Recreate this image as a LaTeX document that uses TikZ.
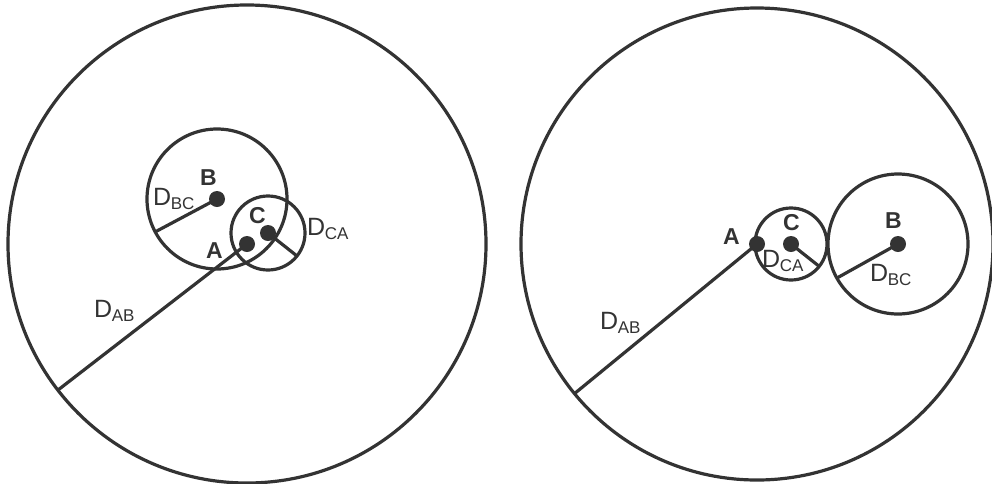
\documentclass[tikz,border=0pt]{standalone}
\usepackage{fontspec}
\setmainfont{Liberation Sans}
\definecolor{ink}{HTML}{333333}
\newcommand{\Dlab}[1]{{\fontsize{25}{25}\selectfont D}\kern-0.5pt\raisebox{-4pt}{\fontsize{17}{17}\selectfont #1}}
\tikzset{
  ring/.style={draw=ink, line width=3.2pt},
  radius line/.style={draw=ink, line width=3.2pt},
  dot/.style={circle, fill=ink, inner sep=0pt, minimum size=16pt},
  ptlab/.style={anchor=base west, inner sep=0pt, text=ink, font=\bfseries\fontsize{23}{23}\selectfont},
  dlab/.style={anchor=base west, inner sep=0pt, text=ink},
}
\begin{document}
\begin{tikzpicture}[x=1pt,y=-1pt]
\useasboundingbox (0,0) rectangle (992,483);
% ---------- left ----------
\coordinate (LA) at (247,244);
\coordinate (LB) at (217,199);
\coordinate (LC) at (268,233);
\coordinate (LABend) at (58,390);
\coordinate (LBCend) at (155,232);
\coordinate (LCAend) at (297,256);
\draw[ring] (LA) circle (239pt);
\draw[ring] (LB) circle (70pt);
\draw[ring] (LC) circle (37pt);
\draw[radius line] (LA) -- (LABend);
\draw[radius line] (LB) -- (LBCend);
\draw[radius line] (LC) -- (LCAend);
\node[dot] (lAdot) at (LA) {};
\node[dot] (lBdot) at (LB) {};
\node[dot] (lCdot) at (LC) {};
\node[ptlab] (lAlab) at (206,258) {A};
\node[ptlab] (lBlab) at (200,185) {B};
\node[ptlab] (lClab) at (249,223) {C};
\node[dlab] (lDAB) at (94,317) {\Dlab{AB}};
\node[dlab] (lDBC) at (153,205) {\Dlab{BC}};
\node[dlab] (lDCA) at (307,235) {\Dlab{CA}};
% ---------- right ----------
\coordinate (RA) at (757,244);
\coordinate (RB) at (898,244);
\coordinate (RC) at (791,244);
\coordinate (RABend) at (574,394);
\coordinate (RBCend) at (837,278);
\coordinate (RCAend) at (820,267);
\draw[ring] (RA) circle (236pt);
\draw[ring] (RB) circle (70pt);
\draw[ring] (RC) circle (36pt);
\draw[radius line] (RA) -- (RABend);
\draw[radius line] (RB) -- (RBCend);
\draw[radius line] (RC) -- (RCAend);
\node[dot] (rAdot) at (RA) {};
\node[dot] (rBdot) at (RB) {};
\node[dot] (rCdot) at (RC) {};
\node[ptlab] (rAlab) at (723,244) {A};
\node[ptlab] (rBlab) at (885,228) {B};
\node[ptlab] (rClab) at (783,230) {C};
\node[dlab] (rDAB) at (600,329) {\Dlab{AB}};
\node[dlab] (rDBC) at (870,281) {\Dlab{BC}};
\node[dlab] (rDCA) at (762,267) {\Dlab{CA}};
\end{tikzpicture}
\end{document}
